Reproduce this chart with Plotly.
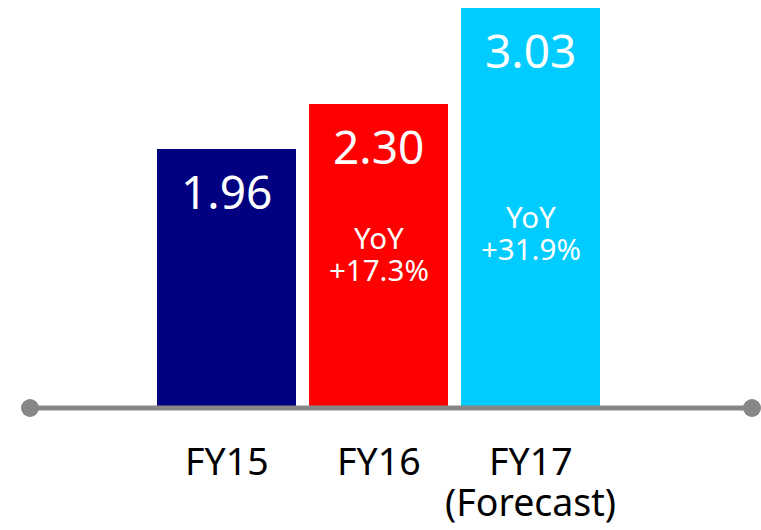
import plotly.graph_objects as go

categories = ["FY15", "FY16", "FY17"]
sublabels = ["", "", "(Forecast)"]
values = [1.96, 2.30, 3.03]
value_labels = ["1.96", "2.30", "3.03"]
yoy_labels = ["", "+17.3%", "+31.9%"]
colors = ["#000080", "#FF0000", "#00CCFF"]

FONT = "Noto Sans, DejaVu Sans, sans-serif"
W, H = 761, 530
PLOT_L, PLOT_R = 30, 752
BASE_PX = 408
PX_PER_UNIT = 132.0
PX_PER_CAT = 152.0
FY15_CENTER = 226.5

fig = go.Figure()
fig.add_trace(go.Bar(
    x=categories, y=values, marker=dict(color=colors, line=dict(width=0)),
    width=139 / PX_PER_CAT, hoverinfo="x+y",
))

ann = []
for cat, v, lab, yoy, sub in zip(categories, values, value_labels, yoy_labels, sublabels):
    ann.append(dict(x=cat, y=v, xref="x", yref="y", text=lab, showarrow=False,
                    yanchor="middle", yshift=-42,
                    font=dict(family=FONT, size=46, color="white")))
    ann.append(dict(x=cat, y=0, xref="x", yref="y", text=cat, showarrow=False,
                    yanchor="middle", yshift=-52,
                    font=dict(family=FONT, size=37.5, color="black")))
    if sub:
        ann.append(dict(x=cat, y=0, xref="x", yref="y", text=sub, showarrow=False,
                        yanchor="middle", yshift=-93,
                        font=dict(family=FONT, size=37.5, color="black")))

yoy_shift = {"FY16": (171, 139), "FY17": (192, 160)}
for cat, yoy in zip(categories, yoy_labels):
    if yoy:
        s1, s2 = yoy_shift[cat]
        ann.append(dict(x=cat, y=0, xref="x", yref="y", text="YoY", showarrow=False,
                        yanchor="middle", yshift=s1,
                        font=dict(family=FONT, size=29.5, color="white")))
        ann.append(dict(x=cat, y=0, xref="x", yref="y", text=yoy, showarrow=False,
                        yanchor="middle", yshift=s2,
                        font=dict(family=FONT, size=29.5, color="white")))

plot_w = PLOT_R - PLOT_L
x0 = -(FY15_CENTER - PLOT_L) / PX_PER_CAT
x1 = x0 + plot_w / PX_PER_CAT

line_col = "#878787"
shapes = [
    dict(type="line", xref="paper", yref="paper", x0=0, x1=1, y0=0, y1=0,
         line=dict(color=line_col, width=5), layer="above"),
]
for xp in (0, 1):
    shapes.append(dict(type="circle", xref="paper", yref="paper", xsizemode="pixel", ysizemode="pixel",
                       xanchor=xp, yanchor=0, x0=-9, x1=9, y0=-9, y1=9,
                       fillcolor=line_col, line=dict(width=0), layer="above"))

fig.update_layout(
    width=W, height=H,
    margin=dict(l=PLOT_L, r=W - PLOT_R, t=0, b=H - BASE_PX, pad=0),
    plot_bgcolor="white", paper_bgcolor="white",
    showlegend=False,
    xaxis=dict(type="category", range=[x0, x1], showticklabels=False, showgrid=False,
               zeroline=False, showline=False, ticks=""),
    yaxis=dict(range=[0, BASE_PX / PX_PER_UNIT], visible=False, showgrid=False, zeroline=False),
    annotations=ann, shapes=shapes,
    bargap=0,
)

fig.write_html("out.html", config={"displayModeBar": False},
               post_script="document.body.style.margin='0';document.body.style.overflow='hidden';")
